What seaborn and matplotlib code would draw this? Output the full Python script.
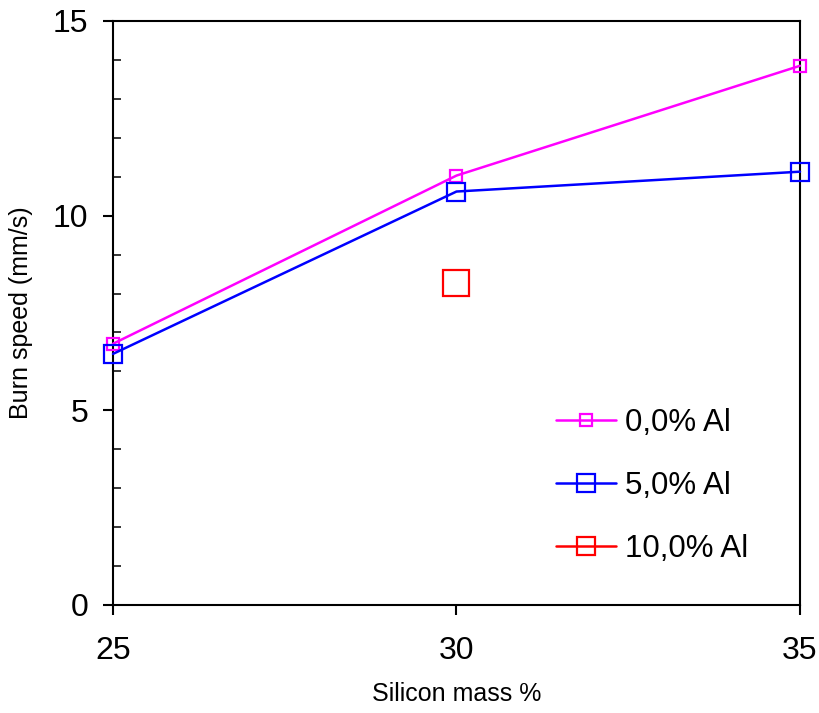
import numpy as np
import pandas as pd
import matplotlib
matplotlib.use("Agg")
import matplotlib.pyplot as plt
from matplotlib.ticker import MultipleLocator
import seaborn as sns

# values
silicon = [25, 30, 35]
al_0 = [6.71, 11.03, 13.85]
al_5 = [6.45, 10.62, 11.13]
silicon_10 = [30]
al_10 = [8.26]

labels = ["0,0% Al", "5,0% Al", "10,0% Al"]
colors = ["#ff00ff", "#0000ff", "#ff0000"]
msizes = [8, 13, 19]
legend_msizes = [8, 13, 13]

sns.set_style("ticks")
plt.rcParams["font.family"] = ["Liberation Sans", "DejaVu Sans"]
plt.rcParams["text.color"] = "black"
plt.rcParams["axes.labelcolor"] = "black"

fig = plt.figure(figsize=(8.2, 7.13), dpi=100)
ax = fig.add_axes([113 / 820, 1 - 605 / 713, 687 / 820, 584 / 713])

series = [(silicon, al_0), (silicon, al_5), (silicon_10, al_10)]
for (xs, ys), lab, col, ms in zip(series, labels, colors, msizes):
    df = pd.DataFrame({"x": xs, "y": ys})
    sns.lineplot(data=df, x="x", y="y", ax=ax, color=col, label=lab,
                 marker="s", markersize=ms, markerfacecolor="none",
                 markeredgecolor=col, markeredgewidth=1.6, linewidth=1.8,
                 clip_on=False, zorder=3)

ax.set_xlim(25, 35)
ax.set_ylim(0, 15)
ax.set_xticks([25, 30, 35])
ax.set_yticks([0, 5, 10, 15])
ax.yaxis.set_minor_locator(MultipleLocator(1))

ax.tick_params(axis="both", which="major", direction="out", length=7,
               width=1.5, labelsize=23, colors="black")
ax.tick_params(axis="x", which="major", pad=15)
ax.tick_params(axis="y", which="major", pad=11)
ax.tick_params(axis="y", which="minor", direction="in", length=6, width=1.3)
ax.tick_params(axis="x", which="minor", length=0)
for sp in ax.spines.values():
    sp.set_visible(True)
    sp.set_linewidth(1.5)
    sp.set_color("black")

ax.set_xlabel("Silicon mass %", fontsize=18, labelpad=12)
ax.set_ylabel("Burn speed (mm/s)", fontsize=18, labelpad=14)

leg = ax.legend(loc="upper left", bbox_to_anchor=(0.627, 0.358), frameon=False,
                fontsize=22.5, handlelength=1.9, handletextpad=0.3,
                labelspacing=1.05, borderaxespad=0)
for h, ms in zip(leg.legend_handles, legend_msizes):
    h.set_markersize(ms)

fig.savefig("out.png", dpi=100)
